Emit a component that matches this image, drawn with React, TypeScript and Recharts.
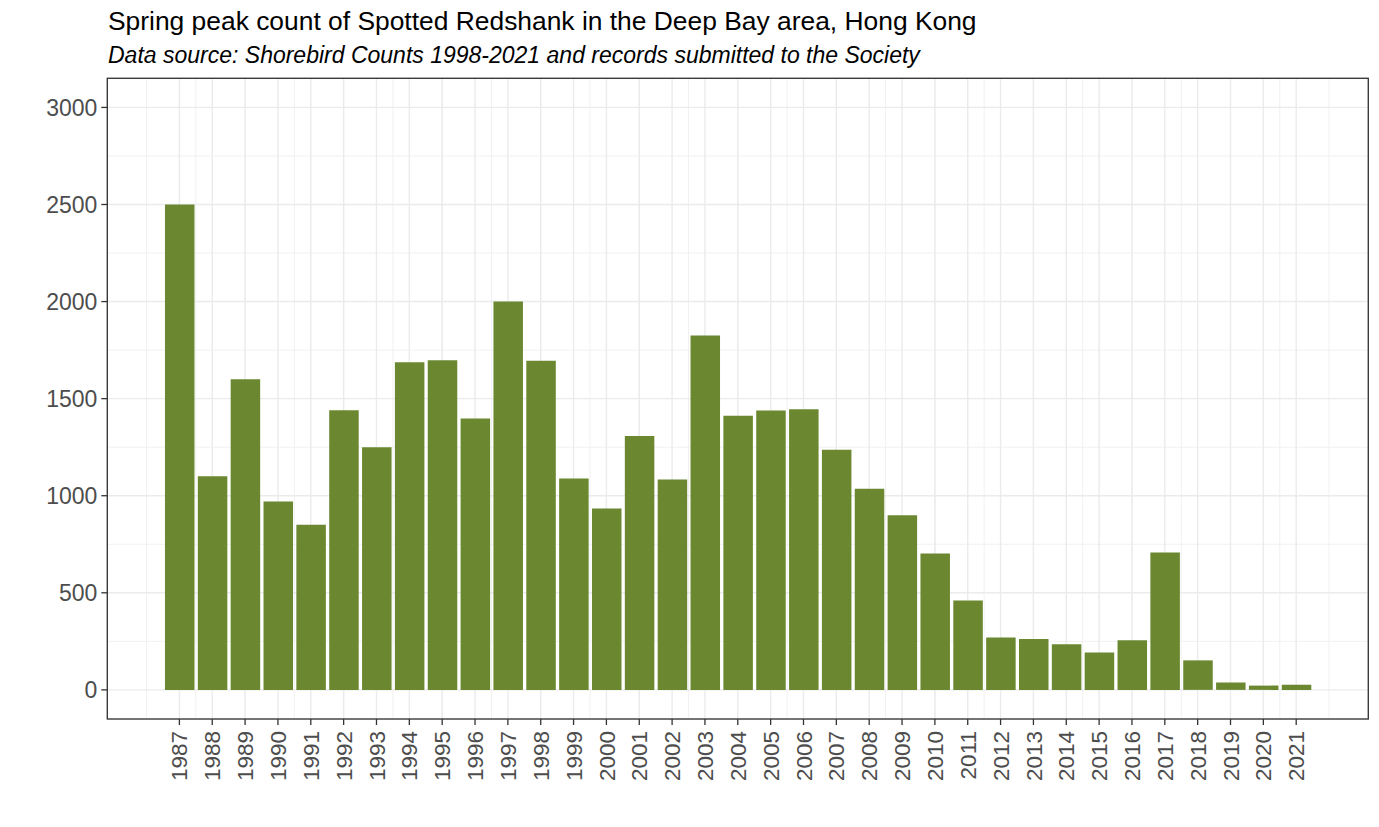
import React from "react"
import { BarChart, Bar, XAxis, YAxis, CartesianGrid } from "recharts"

const years = [
  1987, 1988, 1989, 1990, 1991, 1992, 1993, 1994, 1995, 1996, 1997, 1998,
  1999, 2000, 2001, 2002, 2003, 2004, 2005, 2006, 2007, 2008, 2009, 2010,
  2011, 2012, 2013, 2014, 2015, 2016, 2017, 2018, 2019, 2020, 2021,
]

const counts = [
  2500, 1100, 1600, 970, 850, 1440, 1250, 1688, 1698, 1398, 2000, 1695,
  1089, 934, 1307, 1084, 1825, 1412, 1439, 1445, 1237, 1036, 900, 703,
  460, 270, 262, 235, 193, 255, 708, 152, 38, 22, 27,
]

const yTicks = [0, 500, 1000, 1500, 2000, 2500, 3000]
const yMinorTicks = [250, 750, 1250, 1750, 2250, 2750]

// half-year grid positions, 1986 .. 2022
const xMinorTicks = Array.from({ length: 73 }, (_, i) => 1986 + i * 0.5)

const data = years.map((year, i) => ({ year, count: counts[i] }))

const W = 1379
const H = 827
const FONT = "'Liberation Sans', Arial, Helvetica, sans-serif"
const AXIS_TEXT = "#4d4d4d"

const plot = { left: 107.3, top: 78.3, right: 1368.3, bottom: 719 }

function XTick({ x, y, payload }: any) {
  return (
    <text
      x={x}
      y={y}
      transform={`rotate(-90, ${x}, ${y})`}
      textAnchor="end"
      dy="0.36em"
      fontSize={22.5}
      fontFamily={FONT}
      fill={AXIS_TEXT}
    >
      {payload.value}
    </text>
  )
}

function YTick({ x, y, payload }: any) {
  return (
    <text x={x} y={y} textAnchor="end" dy="0.36em" fontSize={23} fontFamily={FONT} fill={AXIS_TEXT}>
      {payload.value}
    </text>
  )
}

export default function App() {
  return (
    <div style={{ position: "absolute", left: 0, top: 0, width: W, height: H, background: "#fff" }}>
      <BarChart
        width={W}
        height={H}
        data={data}
        margin={{ top: plot.top, right: W - plot.right, bottom: 0, left: 0 }}
      >
        <XAxis xAxisId="minor" dataKey="year" type="number" domain={[1984.805, 2023.195]} ticks={xMinorTicks} allowDataOverflow hide />
        <YAxis yAxisId="minor" type="number" domain={[-150, 3150]} ticks={yMinorTicks} allowDataOverflow hide />
        <CartesianGrid xAxisId="minor" yAxisId="minor" stroke="#f1f1f1" strokeWidth={1} />
        <XAxis
          dataKey="year"
          type="number"
          domain={[1984.805, 2023.195]}
          ticks={years}
          interval={0}
          allowDataOverflow
          axisLine={false}
          tickLine={{ stroke: "#333333", strokeWidth: 1.3 }}
          tickSize={6}
          tickMargin={6}
          height={H - plot.bottom}
          tick={<XTick />}
        />
        <YAxis
          type="number"
          domain={[-150, 3150]}
          ticks={yTicks}
          interval={0}
          allowDataOverflow
          axisLine={false}
          tickLine={{ stroke: "#333333", strokeWidth: 1.3 }}
          tickSize={6}
          tickMargin={4}
          width={plot.left}
          tick={<YTick />}
        />
        <CartesianGrid stroke="#ebebeb" strokeWidth={1.4} />
        <Bar dataKey="count" fill="#6b8830" barSize={29.5} isAnimationActive={false} />
      </BarChart>
      <svg width={W} height={H} style={{ position: "absolute", left: 0, top: 0, pointerEvents: "none" }}>
        <text x={108} y={30} fontSize={26.4} fontFamily={FONT} fill="#000">
          Spring peak count of Spotted Redshank in the Deep Bay area, Hong Kong
        </text>
        <text x={108} y={63} fontSize={23} fontStyle="italic" fontFamily={FONT} fill="#000">
          Data source: Shorebird Counts 1998-2021 and records submitted to the Society
        </text>
        <rect
          x={plot.left}
          y={plot.top}
          width={plot.right - plot.left}
          height={plot.bottom - plot.top}
          fill="none"
          stroke="#333333"
          strokeWidth={1.3}
        />
      </svg>
    </div>
  )
}
